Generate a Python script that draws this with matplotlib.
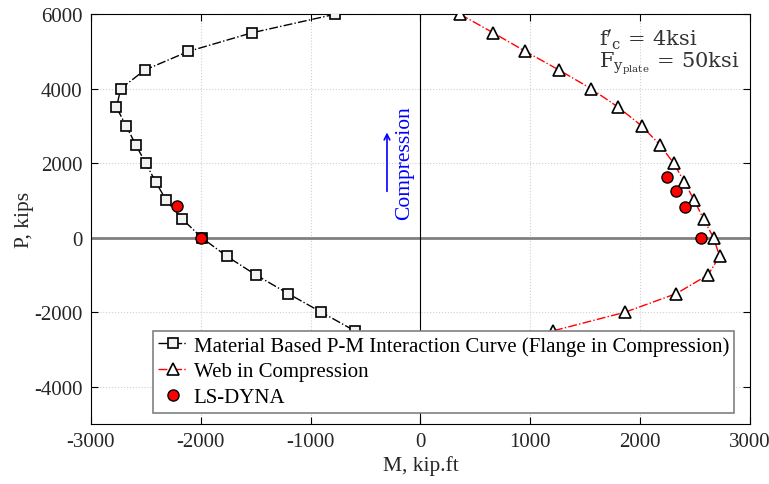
import matplotlib
matplotlib.use("Agg")
import matplotlib.pyplot as plt

# Material based P-M curve (flange in compression)
flange_M = [-775, -1535, -2114, -2511, -2729, -2768, -2680, -2593, -2502, -2411,
            -2314, -2168, -1992, -1762, -1498, -1205, -902, -598]
flange_P = [6000, 5500, 5000, 4500, 4000, 3500, 3000, 2500, 2000, 1500,
            1000, 500, 0, -500, -1000, -1500, -2000, -2500]

# Web in compression
web_M = [359, 662, 956, 1262, 1553, 1802, 2014, 2177, 2305, 2402, 2493, 2577,
         2668, 2723, 2617, 2329, 1862, 1207]
web_P = [6000, 5500, 5000, 4500, 4000, 3500, 3000, 2500, 2000, 1500, 1000, 500,
         0, -500, -1000, -1500, -2000, -2500]

# LS-DYNA results
dyna_M = [-2217, -1995, 2244, 2329, 2411, 2556]
dyna_P = [841, 0, 1636, 1244, 832, 0]

xticks = [-3000, -2000, -1000, 0, 1000, 2000, 3000]
yticks = [-4000, -2000, 0, 2000, 4000, 6000]

plt.rcParams['font.family'] = ['Liberation Serif', 'DejaVu Serif']
plt.rcParams['mathtext.fontset'] = 'dejavuserif'

fig = plt.figure(figsize=(7.69, 4.85), dpi=100)
ax = fig.add_axes([0.1183, 0.1237, 0.857, 0.845])

ax.axhline(0, color='#808080', lw=2, zorder=1)
ax.axvline(0, color='black', lw=0.8, zorder=1)

ax.plot(flange_M, flange_P, color='black', ls='-.', lw=1, marker='s', ms=7,
        mfc='#f2f2f2', mec='black', mew=1.2, zorder=3,
        label='Material Based P-M Interaction Curve (Flange in Compression)')
ax.plot(web_M, web_P, color='red', ls='-.', lw=1, marker='^', ms=9,
        mfc='white', mec='black', mew=1.2, zorder=3,
        label='Web in Compression')
ax.plot(dyna_M, dyna_P, ls='none', marker='o', ms=8, mfc='red', mec='black',
        mew=1, zorder=4, label='LS-DYNA')

ax.set_xlim(-3000, 3000)
ax.set_ylim(-5000, 6000)
ax.set_xticks(xticks)
ax.set_yticks(yticks)
ax.set_xticklabels([str(v) for v in xticks])
ax.set_yticklabels([str(v) for v in yticks])
ax.tick_params(direction='in', top=True, right=True, labelsize=15, length=5,
               labelcolor='#262626', pad=6)
ax.grid(True, ls=':', color='#d0d0d0', lw=0.8)
ax.set_axisbelow(True)
ax.set_xlabel('M, kip.ft', fontsize=15.5, color='#262626', labelpad=3)
ax.set_ylabel('P, kips', fontsize=15.5, color='#262626', labelpad=0)

leg = ax.legend(loc='lower right', bbox_to_anchor=(0.976, 0.028), fontsize=15,
                frameon=True, fancybox=False, edgecolor='#808080',
                handlelength=1.4, handletextpad=0.3, borderpad=0.25,
                labelspacing=0.3, framealpha=1, borderaxespad=0)
leg.get_frame().set_linewidth(1.2)

ax.text(1623, 5166, r"$\mathrm{f}'_{\mathrm{c}}\,=\,4\mathrm{ksi}$",
        fontsize=15, color='#333333', va='baseline')
ax.text(1623, 4603, r"$\mathrm{F}_{\mathrm{y}_{\mathrm{plate}}}\,=\,50\mathrm{ksi}$",
        fontsize=15, color='#333333', va='baseline')

ax.text(-141, 2030, 'Compression', color='blue', rotation=90, fontsize=15.5,
        ha='center', va='center')
ax.annotate('', xy=(-305, 2900), xytext=(-305, 1170),
            arrowprops=dict(arrowstyle='->', color='blue', lw=1.2))

fig.savefig('out.png', dpi=100)
